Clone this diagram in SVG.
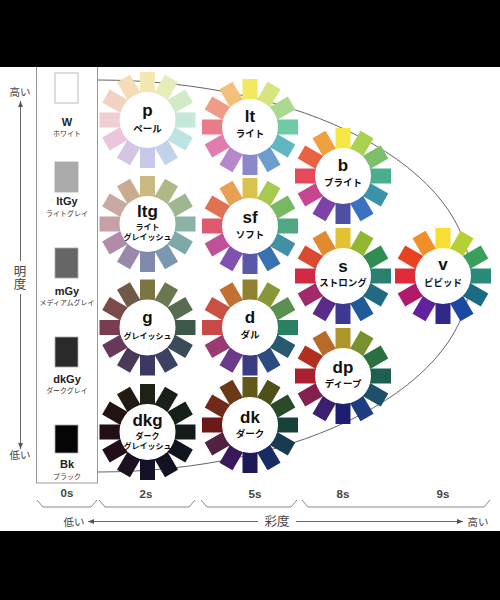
<svg xmlns="http://www.w3.org/2000/svg" width="500" height="600" viewBox="0 0 500 600">
<style>
.code{font-family:'Liberation Sans','Noto Sans CJK JP',sans-serif;font-weight:bold;font-size:17px;fill:#111;text-anchor:middle}
.jp{font-family:'Noto Sans CJK JP',sans-serif;font-weight:bold;font-size:9.5px;fill:#111;text-anchor:middle}
.jps{font-family:'Noto Sans CJK JP',sans-serif;font-weight:bold;font-size:8px;fill:#111;text-anchor:middle}
.gc{font-family:'Liberation Sans','Noto Sans CJK JP',sans-serif;font-weight:bold;font-size:11px;fill:#222;text-anchor:middle}
.gj{font-family:'Noto Sans CJK JP',sans-serif;font-size:7px;fill:#333;text-anchor:middle}
.ax{font-family:'Noto Sans CJK JP',sans-serif;font-size:10.5px;fill:#444;text-anchor:middle}
.axb{font-family:'Noto Sans CJK JP',sans-serif;font-size:12.5px;fill:#444;text-anchor:middle}
.vert{writing-mode:vertical-rl;letter-spacing:0.5px}
.lvl{font-family:'Liberation Sans',sans-serif;font-weight:bold;font-size:11.5px;fill:#444;text-anchor:middle}
.ln{fill:none;stroke:#666;stroke-width:1}
.br{fill:none;stroke:#888;stroke-width:1}
.hub{fill:#fff}
.sw{stroke:#aaa;stroke-width:0.8}
</style>
<defs>
<rect id="pt" x="-7.5" y="-48" width="15" height="21"/>
<marker id="ah" viewBox="0 0 10 10" refX="10" refY="5" markerWidth="6" markerHeight="6" orient="auto" markerUnits="userSpaceOnUse"><path d="M0,1 L10,5 L0,9 z" fill="#555"/></marker>
</defs>
<rect x="0" y="0" width="500" height="600" fill="#fff"/>

<g id="connectors">
<path class="ln" d="M98,80 A372,196 0 0 1 98,472"/>
<path class="ln" d="M20.5,261 L20.5,101" marker-end="url(#ah)"/>
<path class="ln" d="M20.5,294 L20.5,449" marker-end="url(#ah)"/>
<path class="ln" d="M258,521.5 L88,521.5" marker-end="url(#ah)"/>
<path class="ln" d="M296,521.5 L463,521.5" marker-end="url(#ah)"/>
<path class="br" d="M37,500 L43,507 L91,507 L97,500"/>
<path class="br" d="M99,500 L105,507 L189,507 L195,500"/>
<path class="br" d="M201,500 L207,507 L291,507 L297,500"/>
<path class="br" d="M302,500 L308,507 L484,507 L490,500"/>
</g>

<g id="gray-scale">
<rect x="36.5" y="60" width="61" height="423" fill="none" stroke="#999" stroke-width="1"/>
<rect class="sw" x="55" y="73" width="23" height="30" fill="#fff"/>
<text class="gc" x="67" y="126">W</text><text class="gj" x="67" y="135.5">ホワイト</text>
<rect class="sw" x="55" y="162" width="23" height="30" fill="#aaa"/>
<text class="gc" x="67" y="205">ltGy</text><text class="gj" x="67" y="216">ライトグレイ</text>
<rect class="sw" x="55" y="248" width="23" height="30" fill="#666"/>
<text class="gc" x="67" y="295">mGy</text><text class="gj" x="67" y="305">メディアムグレイ</text>
<rect class="sw" x="55" y="337" width="23" height="30" fill="#2a2a2a"/>
<text class="gc" x="67" y="383">dkGy</text><text class="gj" x="67" y="393">ダークグレイ</text>
<rect class="sw" x="55" y="425" width="23" height="28" fill="#050505"/>
<text class="gc" x="67" y="468">Bk</text><text class="gj" x="67" y="479">ブラック</text>
</g>

<g id="wheel-p" transform="translate(147.5,120)">
<use href="#pt" fill="#f3e7b2"/><use href="#pt" transform="rotate(30)" fill="#e6edb9"/><use href="#pt" transform="rotate(60)" fill="#d3eac6"/><use href="#pt" transform="rotate(90)" fill="#c5e8d8"/><use href="#pt" transform="rotate(120)" fill="#bee3e3"/><use href="#pt" transform="rotate(150)" fill="#c3d2e8"/><use href="#pt" transform="rotate(180)" fill="#c8c8ea"/><use href="#pt" transform="rotate(210)" fill="#d3c6e5"/><use href="#pt" transform="rotate(240)" fill="#eac5dc"/><use href="#pt" transform="rotate(270)" fill="#efcfd2"/><use href="#pt" transform="rotate(300)" fill="#f2d3c3"/><use href="#pt" transform="rotate(330)" fill="#f4dcb6"/>
<circle class="hub" r="28"/>
<text class="code" y="-4.5">p</text><text class="jp" y="11.5">ペール</text>
</g>

<g id="wheel-lt" transform="translate(250,127)">
<use href="#pt" fill="#f4e762"/><use href="#pt" transform="rotate(30)" fill="#d6e57f"/><use href="#pt" transform="rotate(60)" fill="#a9da8f"/><use href="#pt" transform="rotate(90)" fill="#6fcba6"/><use href="#pt" transform="rotate(120)" fill="#61b7c1"/><use href="#pt" transform="rotate(150)" fill="#6c9dcd"/><use href="#pt" transform="rotate(180)" fill="#8b89cb"/><use href="#pt" transform="rotate(210)" fill="#b688cb"/><use href="#pt" transform="rotate(240)" fill="#df7db0"/><use href="#pt" transform="rotate(270)" fill="#ea7c89"/><use href="#pt" transform="rotate(300)" fill="#ef9b87"/><use href="#pt" transform="rotate(330)" fill="#f4c079"/>
<circle class="hub" r="28"/>
<text class="code" y="-5">lt</text><text class="jp" y="10">ライト</text>
</g>

<g id="wheel-ltg" transform="translate(147.5,224)">
<use href="#pt" fill="#c9b983"/><use href="#pt" transform="rotate(30)" fill="#b1b887"/><use href="#pt" transform="rotate(60)" fill="#9fb78f"/><use href="#pt" transform="rotate(90)" fill="#8bb2a4"/><use href="#pt" transform="rotate(120)" fill="#7ea9a9"/><use href="#pt" transform="rotate(150)" fill="#7a99b1"/><use href="#pt" transform="rotate(180)" fill="#8389aa"/><use href="#pt" transform="rotate(210)" fill="#9a89aa"/><use href="#pt" transform="rotate(240)" fill="#b28ba8"/><use href="#pt" transform="rotate(270)" fill="#c7a0a7"/><use href="#pt" transform="rotate(300)" fill="#c8a8a0"/><use href="#pt" transform="rotate(330)" fill="#c9ab90"/>
<circle class="hub" r="28"/>
<text class="code" y="-7">ltg</text><text class="jps" y="5.5">ライト</text><text class="jps" y="15.5">グレイッシュ</text>
</g>

<g id="wheel-sf" transform="translate(250,226)">
<use href="#pt" fill="#d9c24e"/><use href="#pt" transform="rotate(30)" fill="#a8c852"/><use href="#pt" transform="rotate(60)" fill="#77b862"/><use href="#pt" transform="rotate(90)" fill="#50a883"/><use href="#pt" transform="rotate(120)" fill="#4291a2"/><use href="#pt" transform="rotate(150)" fill="#3a71b0"/><use href="#pt" transform="rotate(180)" fill="#5959a8"/><use href="#pt" transform="rotate(210)" fill="#8051af"/><use href="#pt" transform="rotate(240)" fill="#c05198"/><use href="#pt" transform="rotate(270)" fill="#df5a70"/><use href="#pt" transform="rotate(300)" fill="#e07152"/><use href="#pt" transform="rotate(330)" fill="#e8a152"/>
<circle class="hub" r="28"/>
<text class="code" y="-3">sf</text><text class="jp" y="12">ソフト</text>
</g>

<g id="wheel-g" transform="translate(147.5,327.5)">
<use href="#pt" fill="#7b7542"/><use href="#pt" transform="rotate(30)" fill="#6a7851"/><use href="#pt" transform="rotate(60)" fill="#586c51"/><use href="#pt" transform="rotate(90)" fill="#3c5949"/><use href="#pt" transform="rotate(120)" fill="#3b4b59"/><use href="#pt" transform="rotate(150)" fill="#3b4161"/><use href="#pt" transform="rotate(180)" fill="#3b3961"/><use href="#pt" transform="rotate(210)" fill="#4b3959"/><use href="#pt" transform="rotate(240)" fill="#693959"/><use href="#pt" transform="rotate(270)" fill="#7b3b51"/><use href="#pt" transform="rotate(300)" fill="#7b4b49"/><use href="#pt" transform="rotate(330)" fill="#715949"/>
<circle class="hub" r="28"/>
<text class="code" y="-5">g</text><text class="jps" y="11">グレイッシュ</text>
</g>

<g id="wheel-d" transform="translate(250,327.5)">
<use href="#pt" fill="#918131"/><use href="#pt" transform="rotate(30)" fill="#889839"/><use href="#pt" transform="rotate(60)" fill="#5a9051"/><use href="#pt" transform="rotate(90)" fill="#298161"/><use href="#pt" transform="rotate(120)" fill="#295971"/><use href="#pt" transform="rotate(150)" fill="#2b4b81"/><use href="#pt" transform="rotate(180)" fill="#3b3b81"/><use href="#pt" transform="rotate(210)" fill="#6b3b89"/><use href="#pt" transform="rotate(240)" fill="#9b3971"/><use href="#pt" transform="rotate(270)" fill="#c94949"/><use href="#pt" transform="rotate(300)" fill="#c95141"/><use href="#pt" transform="rotate(330)" fill="#c17131"/>
<circle class="hub" r="28"/>
<text class="code" y="-5">d</text><text class="jp" y="10">ダル</text>
</g>

<g id="wheel-dkg" transform="translate(147.5,432)">
<use href="#pt" fill="#1d2216"/><use href="#pt" transform="rotate(30)" fill="#1a2018"/><use href="#pt" transform="rotate(60)" fill="#152019"/><use href="#pt" transform="rotate(90)" fill="#121a1a"/><use href="#pt" transform="rotate(120)" fill="#10161f"/><use href="#pt" transform="rotate(150)" fill="#111222"/><use href="#pt" transform="rotate(180)" fill="#151127"/><use href="#pt" transform="rotate(210)" fill="#1b1121"/><use href="#pt" transform="rotate(240)" fill="#200e1a"/><use href="#pt" transform="rotate(270)" fill="#210e16"/><use href="#pt" transform="rotate(300)" fill="#221212"/><use href="#pt" transform="rotate(330)" fill="#221a15"/>
<circle class="hub" r="28"/>
<text class="code" y="-6">dkg</text><text class="jps" y="6.5">ダーク</text><text class="jps" y="16.5">グレイッシュ</text>
</g>

<g id="wheel-dk" transform="translate(250,425)">
<use href="#pt" fill="#615919"/><use href="#pt" transform="rotate(30)" fill="#4b5119"/><use href="#pt" transform="rotate(60)" fill="#294929"/><use href="#pt" transform="rotate(90)" fill="#194139"/><use href="#pt" transform="rotate(120)" fill="#193b51"/><use href="#pt" transform="rotate(150)" fill="#192b61"/><use href="#pt" transform="rotate(180)" fill="#1b1959"/><use href="#pt" transform="rotate(210)" fill="#391959"/><use href="#pt" transform="rotate(240)" fill="#512141"/><use href="#pt" transform="rotate(270)" fill="#6b1919"/><use href="#pt" transform="rotate(300)" fill="#712919"/><use href="#pt" transform="rotate(330)" fill="#6b3919"/>
<circle class="hub" r="28"/>
<text class="code" y="-2">dk</text><text class="jp" y="12">ダーク</text>
</g>

<g id="wheel-b" transform="translate(343,176)">
<use href="#pt" fill="#f6e748"/><use href="#pt" transform="rotate(30)" fill="#a9d251"/><use href="#pt" transform="rotate(60)" fill="#7cc06c"/><use href="#pt" transform="rotate(90)" fill="#48ae8e"/><use href="#pt" transform="rotate(120)" fill="#3a93a6"/><use href="#pt" transform="rotate(150)" fill="#3a72bf"/><use href="#pt" transform="rotate(180)" fill="#4e4fa3"/><use href="#pt" transform="rotate(210)" fill="#7c42a8"/><use href="#pt" transform="rotate(240)" fill="#c64690"/><use href="#pt" transform="rotate(270)" fill="#e64a5a"/><use href="#pt" transform="rotate(300)" fill="#e96241"/><use href="#pt" transform="rotate(330)" fill="#f0a13f"/>
<circle class="hub" r="28"/>
<text class="code" y="-5">b</text><text class="jp" y="10">ブライト</text>
</g>

<g id="wheel-s" transform="translate(343,276)">
<use href="#pt" fill="#e3c232"/><use href="#pt" transform="rotate(30)" fill="#92b833"/><use href="#pt" transform="rotate(60)" fill="#318c52"/><use href="#pt" transform="rotate(90)" fill="#2b8170"/><use href="#pt" transform="rotate(120)" fill="#216b82"/><use href="#pt" transform="rotate(150)" fill="#215a99"/><use href="#pt" transform="rotate(180)" fill="#3b3992"/><use href="#pt" transform="rotate(210)" fill="#5b2b8a"/><use href="#pt" transform="rotate(240)" fill="#a2296a"/><use href="#pt" transform="rotate(270)" fill="#d22a42"/><use href="#pt" transform="rotate(300)" fill="#da4a31"/><use href="#pt" transform="rotate(330)" fill="#e18a31"/>
<circle class="hub" r="28"/>
<text class="code" y="-4">s</text><text class="jp" y="10">ストロング</text>
</g>

<g id="wheel-v" transform="translate(443,276)">
<use href="#pt" fill="#f7de32"/><use href="#pt" transform="rotate(30)" fill="#b6cf33"/><use href="#pt" transform="rotate(60)" fill="#38a05a"/><use href="#pt" transform="rotate(90)" fill="#2b8b79"/><use href="#pt" transform="rotate(120)" fill="#1b6b82"/><use href="#pt" transform="rotate(150)" fill="#1b49a1"/><use href="#pt" transform="rotate(180)" fill="#30298a"/><use href="#pt" transform="rotate(210)" fill="#6222a0"/><use href="#pt" transform="rotate(240)" fill="#b01a69"/><use href="#pt" transform="rotate(270)" fill="#e12a3a"/><use href="#pt" transform="rotate(300)" fill="#e84221"/><use href="#pt" transform="rotate(330)" fill="#f09029"/>
<circle class="hub" r="28"/>
<text class="code" y="-6">v</text><text class="jp" y="10">ビビッド</text>
</g>

<g id="wheel-dp" transform="translate(343,376)">
<use href="#pt" fill="#b0952a"/><use href="#pt" transform="rotate(30)" fill="#7a9030"/><use href="#pt" transform="rotate(60)" fill="#2a7040"/><use href="#pt" transform="rotate(90)" fill="#1e6050"/><use href="#pt" transform="rotate(120)" fill="#1e5068"/><use href="#pt" transform="rotate(150)" fill="#1e3c80"/><use href="#pt" transform="rotate(180)" fill="#1e1e70"/><use href="#pt" transform="rotate(210)" fill="#3e1e6e"/><use href="#pt" transform="rotate(240)" fill="#842050"/><use href="#pt" transform="rotate(270)" fill="#aa2030"/><use href="#pt" transform="rotate(300)" fill="#b03020"/><use href="#pt" transform="rotate(330)" fill="#b86a28"/>
<circle class="hub" r="28"/>
<text class="code" y="-3">dp</text><text class="jp" y="11">ディープ</text>
</g>

<g id="axis-labels">
<text class="ax" x="20" y="96">高い</text>
<text class="axb vert" x="20" y="277.5">明度</text>
<text class="ax" x="20" y="459">低い</text>
<text class="lvl" x="67" y="497">0s</text>
<text class="lvl" x="146" y="498">2s</text>
<text class="lvl" x="255" y="498">5s</text>
<text class="lvl" x="343" y="498">8s</text>
<text class="lvl" x="443" y="498">9s</text>
<text class="ax" x="74" y="525.5">低い</text>
<text class="axb" x="277" y="526">彩度</text>
<text class="ax" x="478" y="525.5">高い</text>
</g>

<rect x="0" y="0" width="500" height="67" fill="#000"/>
<rect x="0" y="531" width="500" height="69" fill="#000"/>
</svg>
